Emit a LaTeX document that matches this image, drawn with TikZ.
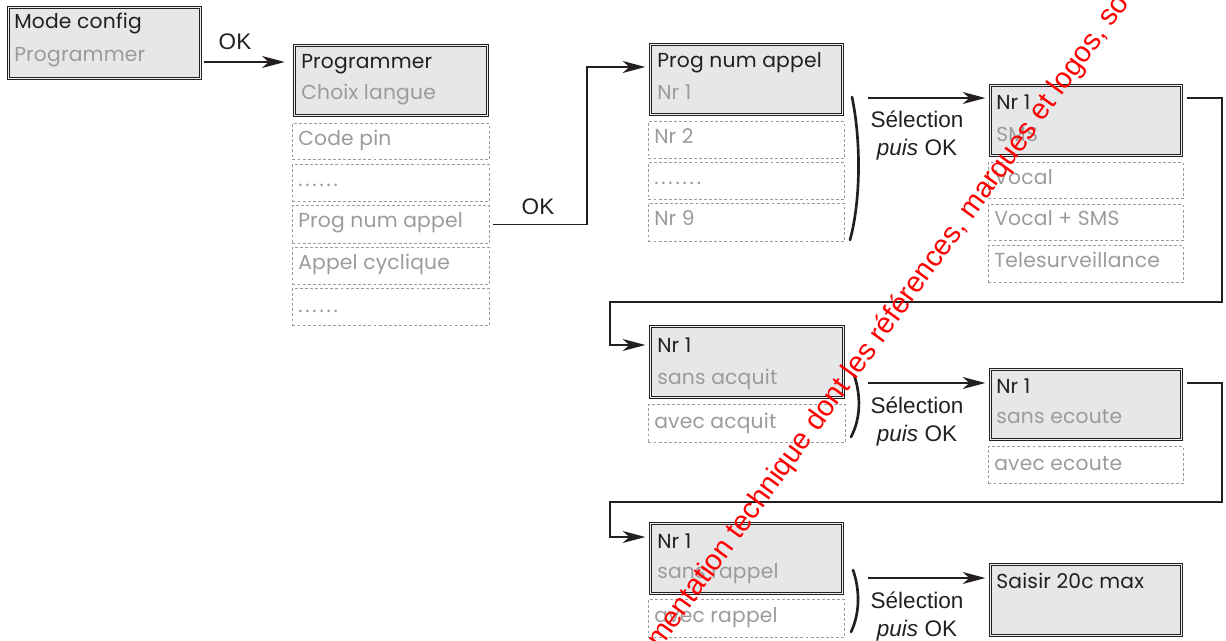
\documentclass[tikz,border=0pt]{standalone}
\usepackage{fontspec}
\newfontfamily\fut[LetterSpace=1]{Poppins}
\newfontfamily\hel{Liberation Sans}
\usetikzlibrary{arrows.meta}
\definecolor{ink}{HTML}{231F20}
\definecolor{mute}{HTML}{9B9B9B}
\definecolor{boxfill}{HTML}{E6E7E8}
\definecolor{wm}{HTML}{FF0000}
\newcommand\spdots[1]{{\addfontfeature{LetterSpace=14}#1}}
\begin{document}
\begin{tikzpicture}[x=0.75pt,y=-0.75pt,
  mainbox/.style={draw=ink, line width=0.7pt, double=white!40!boxfill, double distance=1.4pt, fill=boxfill, inner sep=0pt, anchor=north west},
  optbox/.style={draw=mute, line width=0.7pt, dash pattern=on 2.2pt off 1.6pt, inner sep=0pt, anchor=north west},
  wh/.style 2 args={minimum width=#1*0.75pt, minimum height=#2*0.75pt},
  ttl/.style={font=\fut\fontsize{15.2pt}{17pt}\selectfont, text=ink, anchor=base west, inner sep=0pt},
  sub/.style={ttl, text=mute},
  lbl/.style={font=\hel\fontsize{16.9pt}{19pt}\selectfont, text=ink, inner sep=0pt, anchor=base},
  arr/.style={draw=ink, line width=1pt, -{Stealth[length=17pt,width=9pt,inset=5pt]}, shorten >=3.5pt},
  conn/.style={draw=ink, line width=1pt},
  brk/.style={draw=ink, line width=2pt, line cap=round},
]
\useasboundingbox (0,0) rectangle (1226,641);

% column 1
\node[mainbox, wh={192}{71}] (b1) at (8,7) {};
\node[ttl] (t1a) at (14,29) {Mode config};
\node[sub] (t1b) at (14,62) {Programmer};

% column 2
\node[mainbox, wh={193}{70}] (b2) at (294,45) {};
\node[ttl] (t2a) at (301,69) {Programmer};
\node[sub] (t2b) at (301,100) {Choix langue};
\node[optbox, wh={197}{36}] (o21) at (292,123) {};
\node[optbox, wh={197}{37}] (o22) at (292,164) {};
\node[optbox, wh={197}{38}] (o23) at (292,205) {};
\node[optbox, wh={197}{37}] (o24) at (292,247) {};
\node[optbox, wh={197}{37}] (o25) at (292,288) {};
\node[sub] (t21) at (298,146) {Code pin};
\node[sub] (t22) at (298,187) {\spdots{......}};
\node[sub] (t23) at (298,228) {Prog num appel};
\node[sub] (t24) at (298,270) {Appel cyclique};
\node[sub] (t25) at (298,312) {\spdots{......}};

% column 3
\node[mainbox, wh={192}{70}] (b3) at (650,44) {};
\node[ttl] (t3a) at (657,68) {Prog num appel};
\node[sub] (t3b) at (657,100) {Nr 1};
\node[optbox, wh={196}{37}] (o31) at (648,121) {};
\node[optbox, wh={196}{37}] (o32) at (648,162) {};
\node[optbox, wh={196}{38}] (o33) at (648,203) {};
\node[sub] (t31) at (654,144) {Nr 2};
\node[sub] (t32) at (654,185) {\spdots{.......}};
\node[sub] (t33) at (654,226) {Nr 9};

% column 4 top
\node[mainbox, wh={191}{70}] (b4) at (990,85) {};
\node[ttl] (t4a) at (996,110) {Nr 1};
\node[sub] (t4b) at (996,142) {SMS};
\node[optbox, wh={195}{36}] (o41) at (988,162) {};
\node[optbox, wh={195}{36}] (o42) at (988,204) {};
\node[optbox, wh={195}{37}] (o43) at (988,245) {};
\node[sub] (t41) at (994,185) {Vocal};
\node[sub] (t42) at (994,226) {Vocal + SMS};
\node[sub] (t43) at (994,268) {Telesurveillance};

% row 2
\node[mainbox, wh={193}{71}] (b5) at (650,326) {};
\node[ttl] (t5a) at (657,352) {Nr 1};
\node[sub] (t5b) at (657,384) {sans acquit};
\node[optbox, wh={197}{38}] (o51) at (648,404) {};
\node[sub] (t51) at (654,428) {avec acquit};

\node[mainbox, wh={191}{70}] (b6) at (990,369) {};
\node[ttl] (t6a) at (996,393) {Nr 1};
\node[sub] (t6b) at (996,423) {sans ecoute};
\node[optbox, wh={195}{37}] (o61) at (988,446) {};
\node[sub] (t61) at (994,470) {avec ecoute};

% row 3
\node[mainbox, wh={192}{70}] (b7) at (650,523) {};
\node[ttl] (t7a) at (657,548) {Nr 1};
\node[sub] (t7b) at (657,578) {sans rappel};
\node[optbox, wh={196}{38}] (o71) at (648,599) {};
\node[sub] (t71) at (654,622) {avec rappel};

\node[mainbox, wh={191}{71}] (b8) at (990,564) {};
\node[ttl] (t8a) at (996,588) {Saisir 20c max};

% connectors
\draw[arr, shorten <=2pt, shorten >=7pt] (b1.east |- 0,62) -- (b2.west |- 0,62);
\node[lbl] (ok1) at (235,50) {OK};

\coordinate (k2) at (587,150);
\draw[arr, shorten <=2pt] (o23.east) -| (k2) |- (b3.west |- 0,67);
\node[lbl] (ok2) at (538,215) {OK};

\coordinate (s1) at (868,98);
\coordinate (s2) at (868,383);
\coordinate (s3) at (868,578);
\draw[arr] (s1) -- (b4.west |- s1);
\draw[arr] (s2) -- (b6.west |- s2);
\draw[arr] (s3) -- (b8.west |- s3);

\foreach \s/\y in {1/98, 2/383, 3/578}{
  \node[lbl] (sel\s) at (917,\y+30) {Sélection};
  \node[lbl] (puis\s) at (917,\y+58) {{\itshape puis} OK};
}

\coordinate (r1) at (1222,302);
\coordinate (l1) at (610,302);
\draw[arr, shorten <=4pt] (b4.east |- s1) -| (r1) -- (l1) |- (b5.west |- 0,345);
\coordinate (r2) at (1222,502);
\coordinate (l2) at (610,502);
\draw[arr, shorten <=4pt] (b6.east |- s2) -| (r2) -- (l2) |- (b7.west |- 0,537);

% brackets
\draw[brk] (852,97) .. controls (861,140) and (861,200) .. (850,240);
\draw[brk] (854,375) .. controls (861,395) and (861,418) .. (851,437);
\draw[brk] (853,570) .. controls (860,590) and (860,613) .. (851,632);

% watermark
\node[rotate=54, anchor=base west, text=wm, font=\hel\fontsize{21.7pt}{24pt}\selectfont, inner sep=0pt] (wmk) at (660,650) {mentation technique dont les références, marques et logos, so};
\end{tikzpicture}
\end{document}
